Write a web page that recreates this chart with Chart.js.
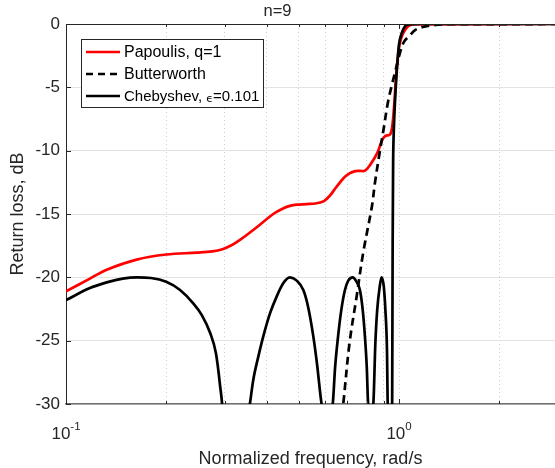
<!DOCTYPE html>
<html>
<head>
<meta charset="utf-8">
<script src="https://cdn.jsdelivr.net/npm/chart.js@4.4.1/dist/chart.umd.min.js"></script>
<style>
  html, body { margin: 0; padding: 0; background: #fff; }
</style>
</head>
<body>
<canvas id="rlChart" width="555" height="468"></canvas>
<script>
// values (frequency in rad/s, return loss in dB)
const papoulisFreq = [0.1, 0.118, 0.1325, 0.163, 0.2, 0.247, 0.275, 0.295, 0.315, 0.333, 0.374, 0.419, 0.45, 0.47, 0.493, 0.528, 0.566, 0.595, 0.62, 0.645, 0.68, 0.71, 0.74, 0.765, 0.79, 0.82, 0.86, 0.89, 0.91, 0.94, 0.954, 0.968, 0.978, 0.99, 1.006, 1.029, 1.063, 1.1, 2.94];
const papoulisDb = [-21.1, -20.1, -19.4, -18.6, -18.2, -18.05, -17.95, -17.78, -17.45, -17.05, -16.05, -15.0, -14.55, -14.36, -14.26, -14.22, -14.15, -13.98, -13.55, -12.95, -12.2, -11.8, -11.62, -11.6, -11.58, -11.1, -10.2, -9.16, -8.84, -8.72, -8.1, -6.26, -4.4, -2.84, -1.5, -0.73, -0.2, -0.03, 0];

const butterFreq = [0.66, 0.68, 0.71, 0.746, 0.78, 0.829, 0.846, 0.874, 0.898, 0.925, 0.952, 0.974, 1.006, 1.036, 1.08, 1.12, 1.17, 1.24, 1.4, 2.94];
const butterDb = [-33, -30, -25.2, -21.5, -18.1, -14.4, -12.6, -10.2, -8.37, -6.26, -4.8, -3.76, -2.3, -1.39, -0.87, -0.47, -0.26, -0.12, -0.02, 0];

const chebyFreq = [0.1, 0.118, 0.1325, 0.148, 0.163, 0.18, 0.2, 0.22, 0.241, 0.256, 0.271, 0.282, 0.29, 0.296, 0.323,
  0.352, 0.357, 0.365, 0.378, 0.391, 0.41, 0.429, 0.449, 0.47, 0.493, 0.516, 0.533, 0.553, 0.567, 0.585, 0.59, 0.608,
  0.627, 0.632, 0.643, 0.656, 0.671, 0.688, 0.704, 0.726, 0.745, 0.763, 0.778, 0.79, 0.8, 0.808, 0.812, 0.822,
  0.832, 0.837, 0.849, 0.86, 0.875, 0.886, 0.9, 0.91, 0.92, 0.925, 0.93, 0.945,
  0.953, 0.955, 0.957, 0.96, 0.963, 0.968, 0.978, 0.99, 1.0, 1.018, 1.04, 1.07, 1.15, 2.94];
const chebyDb = [-21.8, -20.85, -20.4, -20.1, -20.0, -20.05, -20.35, -21.0, -22.05, -23.0, -24.4, -26.0, -28.5, -31, -60,
  -31, -29.9, -28.1, -26.26, -24.68, -22.83, -21.52, -20.47, -20.0, -20.26, -21.0, -22.3, -24.68, -26.8, -29.95, -31, -60,
  -31, -30.07, -27.05, -24.68, -22.57, -21.0, -20.26, -20.0, -20.34, -21.0, -22.57, -24.68, -27.05, -30.07, -31, -60,
  -31, -30, -25.2, -22.57, -20.73, -20.0, -20.73, -22.57, -25.7, -30, -31, -60,
  -32, -25, -17, -11, -9.0, -7.3, -4.95, -2.85, -1.6, -0.75, -0.22, -0.03, 0, 0];

const yTickValues = [-30, -25, -20, -15, -10, -5, 0];
const xLabelValues = [0.1, 1];
const xLabelExponents = ['-1', '0'];
const xGridValues = [0.1, 0.2, 0.3, 0.4, 0.5, 0.6, 0.7, 0.8, 0.9, 1, 2];

const pts = (xs, ys) => xs.map((v, i) => ({ x: v, y: ys[i] }));
const FONT = '"Liberation Sans", Arial, Helvetica, sans-serif';
const INK = '#262626';

// legend, inward ticks, top border and 10^n labels
const matlabFrame = {
  id: 'matlabFrame',
  afterDraw(chart) {
    const { ctx, chartArea: a, scales: { x, y } } = chart;
    ctx.save();
    ctx.strokeStyle = INK;
    ctx.lineWidth = 1;
    ctx.beginPath();
    ctx.moveTo(a.left, a.top + 0.5);
    ctx.lineTo(a.right, a.top + 0.5);
    // y ticks pointing inwards
    yTickValues.forEach(v => {
      const py = Math.round(y.getPixelForValue(v)) + 0.5;
      ctx.moveTo(a.left, py);
      ctx.lineTo(a.left + 5, py);
    });
    // x ticks (major and minor) top and bottom
    xGridValues.forEach(v => {
      const px = Math.round(x.getPixelForValue(v)) + 0.5;
      const len = xLabelValues.includes(v) ? 5 : 3;
      ctx.moveTo(px, a.bottom);
      ctx.lineTo(px, a.bottom - len);
      ctx.moveTo(px, a.top);
      ctx.lineTo(px, a.top + len);
    });
    ctx.stroke();

    // 10^n tick labels
    ctx.fillStyle = INK;
    ctx.textBaseline = 'alphabetic';
    ctx.textAlign = 'left';
    xLabelValues.forEach((v, i) => {
      ctx.font = '17px ' + FONT;
      const wb = ctx.measureText('10').width;
      ctx.font = '11.5px ' + FONT;
      const we = ctx.measureText(xLabelExponents[i]).width;
      const left = x.getPixelForValue(v) - (wb + we) / 2;
      ctx.font = '17px ' + FONT;
      ctx.fillText('10', left, 439);
      ctx.font = '11.5px ' + FONT;
      ctx.fillText(xLabelExponents[i], left + wb, 430);
    });

    // legend box
    ctx.fillStyle = '#fff';
    ctx.fillRect(81, 39, 182, 68);
    ctx.strokeStyle = INK;
    ctx.strokeRect(81.5, 39.5, 182, 68);
    const rows = [
      { y: 52, color: '#ff0000', dash: [], text: 'Papoulis, q=1' },
      { y: 74, color: '#000', dash: [7, 5], text: 'Butterworth' },
      { y: 96, color: '#000', dash: [], text: 'Chebyshev, ' }
    ];
    rows.forEach((r, i) => {
      ctx.strokeStyle = r.color;
      ctx.lineWidth = 2.6;
      ctx.setLineDash(r.dash);
      ctx.beginPath();
      ctx.moveTo(86, r.y);
      ctx.lineTo(120, r.y);
      ctx.stroke();
      ctx.setLineDash([]);
      ctx.fillStyle = '#000';
      ctx.textBaseline = 'middle';
      ctx.font = (i === 2 ? '15px ' : '16px ') + FONT;
      ctx.fillText(r.text, 124, r.y + 1);
      if (i === 2) {
        let tx = 124 + ctx.measureText(r.text).width;
        ctx.font = '11px "DejaVu Sans", sans-serif';
        ctx.fillText('\u03F5', tx, r.y + 3);
        tx += ctx.measureText('\u03F5').width;
        ctx.font = '15px ' + FONT;
        ctx.fillText('=0.101', tx, r.y + 1);
      }
    });
    ctx.restore();
  }
};

new Chart(document.getElementById('rlChart'), {
  type: 'line',
  data: {
    datasets: [
      {
        label: 'Papoulis, q=1',
        data: pts(papoulisFreq, papoulisDb),
        borderColor: '#ff0000',
        borderWidth: 2.7,
        tension: 0.35,
        order: 3
      },
      {
        label: 'Butterworth',
        data: pts(butterFreq, butterDb),
        borderColor: '#000',
        borderWidth: 2.7,
        borderDash: [8, 5],
        tension: 0.35,
        order: 2
      },
      {
        label: 'Chebyshev, \u03F5=0.101',
        data: pts(chebyFreq, chebyDb),
        borderColor: '#000',
        borderWidth: 2.7,
        cubicInterpolationMode: 'monotone',
        order: 1
      }
    ]
  },
  options: {
    responsive: false,
    animation: false,
    devicePixelRatio: 1,
    layout: { padding: 0 },
    elements: {
      point: { radius: 0 },
      line: { fill: false }
    },
    plugins: {
      legend: { display: false },
      tooltip: { enabled: false },
      title: {
        display: true,
        text: 'n=9',
        color: INK,
        font: { family: FONT, size: 16.5, weight: 'normal', lineHeight: 1.2 },
        padding: { top: 2, bottom: 2.2 }
      }
    },
    scales: {
      x: {
        type: 'logarithmic',
        min: 0.1,
        max: 2.94,
        afterBuildTicks: s => { s.ticks = xGridValues.map(v => ({ value: v })); },
        ticks: { display: false },
        grid: { color: '#cfcfcf', lineWidth: 1, drawTicks: false },
        border: { display: true, color: '#707070', width: 1.5, dash: [1, 3] },
        title: {
          display: true,
          text: 'Normalized frequency, rad/s',
          color: INK,
          font: { family: FONT, size: 18, lineHeight: 1 },
          padding: { top: 0, bottom: 0 }
        },
        afterFit: s => { s.height = 64; }
      },
      y: {
        min: -30,
        max: 0,
        afterBuildTicks: s => { s.ticks = yTickValues.map(v => ({ value: v })); },
        ticks: {
          color: INK,
          padding: 6,
          font: { family: FONT, size: 17 }
        },
        grid: { color: '#e3e3e3', lineWidth: 1, drawTicks: false },
        border: { display: true, color: INK, width: 1 },
        title: {
          display: true,
          text: 'Return loss, dB',
          color: INK,
          font: { family: FONT, size: 18, lineHeight: 1 },
          padding: { top: 9, bottom: 0 }
        },
        afterFit: s => { s.width = 66; }
      }
    }
  },
  plugins: [matlabFrame]
});
</script>
</body>
</html>
